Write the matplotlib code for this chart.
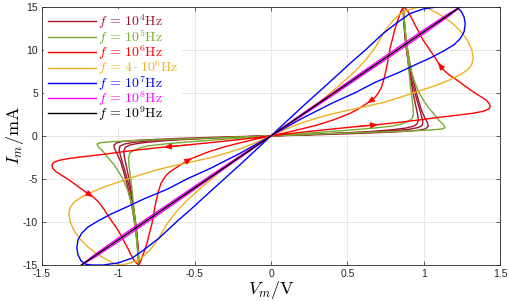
import matplotlib; matplotlib.use("Agg")
import matplotlib.pyplot as plt

# ---------------- data ----------------
X_TICKS = [-1.5, -1, -0.5, 0, 0.5, 1, 1.5]
X_TICKLABELS = ["-1.5", "-1", "-0.5", "0", "0.5", "1", "1.5"]
Y_TICKS = [-15, -10, -5, 0, 5, 10, 15]
Y_TICKLABELS = ["-15", "-10", "-5", "0", "5", "10", "15"]

LABELS = [r"$f\,=\,10^4\mathrm{Hz}$", r"$f\,=\,10^5\mathrm{Hz}$", r"$f\,=\,10^6\mathrm{Hz}$",
          r"$f\,=\,4\cdot 10^6\mathrm{Hz}$", r"$f\,=\,10^7\mathrm{Hz}$",
          r"$f\,=\,10^8\mathrm{Hz}$", r"$f\,=\,10^9\mathrm{Hz}$"]
COLORS = ["#A2142F", "#77AC30", "#FF0000", "#EDB120", "#0000FF", "#FF00FF", "#000000"]

# f = 1e4 Hz
f4_V = [0, 0.2, 0.4, 0.6, 0.8, 0.9, 0.97, 1.01, 1.03, 1.025, 1.005, 0.985, 0.96, 0.935, 0.91, 0.893, 0.88, 0.872, 0.866,
        0.868, 0.875, 0.888, 0.9, 0.915, 0.93, 0.948, 0.96, 0.965, 0.955, 0.93, 0.88, 0.8, 0.65, 0.45, 0.25, 0,
        -0.2, -0.4, -0.6, -0.8, -0.9, -0.97, -1.01, -1.03, -1.025, -1.005, -0.985, -0.96, -0.935, -0.91, -0.893, -0.88, -0.872, -0.866,
        -0.868, -0.875, -0.888, -0.9, -0.915, -0.93, -0.948, -0.96, -0.965, -0.955, -0.93, -0.88, -0.8, -0.65, -0.45, -0.25, 0]
f4_I = [0, 0.08, 0.18, 0.3, 0.45, 0.55, 0.65, 0.8, 1.1, 1.5, 2.2, 3.0, 4.5, 6.2, 8.3, 10.2, 12.0, 13.6, 15.0,
        13.5, 12.0, 10.0, 8.3, 6.5, 5.0, 3.5, 2.5, 1.8, 1.35, 1.1, 0.9, 0.72, 0.5, 0.32, 0.16, 0,
        -0.08, -0.18, -0.3, -0.45, -0.55, -0.65, -0.8, -1.1, -1.5, -2.2, -3.0, -4.5, -6.2, -8.3, -10.2, -12.0, -13.6, -15.0,
        -13.5, -12.0, -10.0, -8.3, -6.5, -5.0, -3.5, -2.5, -1.8, -1.35, -1.1, -0.9, -0.72, -0.5, -0.32, -0.16, 0]
# second pass of the 1e4 Hz trace (middle line of the bundle)
f4b_V = [0.866, 0.872, 0.88, 0.9, 0.92, 0.95, 0.975, 0.995, 0.99, 0.96, 0.9, 0.8, 0.6, 0.3, 0,
         -0.3, -0.6, -0.8, -0.9, -0.96, -0.99, -0.995, -0.975, -0.95, -0.92, -0.9, -0.88, -0.872, -0.866]
f4b_I = [15, 13, 11, 8.5, 6.5, 4.5, 3.0, 1.7, 1.2, 0.95, 0.75, 0.6, 0.4, 0.18, 0,
         -0.18, -0.4, -0.6, -0.75, -0.95, -1.2, -1.7, -3.0, -4.5, -6.5, -8.5, -11, -13, -15]

# f = 1e5 Hz
f5_V = [0, 0.2, 0.4, 0.6, 0.8, 0.95, 1.06, 1.12, 1.14, 1.13, 1.1, 1.07, 1.03, 1.0, 0.97, 0.94, 0.915, 0.898, 0.885, 0.875, 0.866,
        0.872, 0.88, 0.889, 0.9, 0.91, 0.92, 0.93, 0.933, 0.925, 0.9, 0.85, 0.8, 0.7, 0.55, 0.4, 0.2, 0,
        -0.2, -0.4, -0.6, -0.8, -0.95, -1.06, -1.12, -1.14, -1.13, -1.1, -1.07, -1.03, -1.0, -0.97, -0.94, -0.915, -0.898, -0.885, -0.875, -0.866,
        -0.872, -0.88, -0.889, -0.9, -0.91, -0.92, -0.93, -0.933, -0.925, -0.9, -0.85, -0.8, -0.7, -0.55, -0.4, -0.2, 0]
f5_I = [0, 0.12, 0.25, 0.38, 0.5, 0.6, 0.7, 0.8, 0.95, 1.3, 1.8, 2.5, 3.3, 4.1, 5.0, 6.3, 7.8, 9.4, 11.2, 13.0, 15.0,
        13.5, 11.8, 10.2, 8.2, 6.3, 4.8, 3.5, 2.6, 2.0, 1.7, 1.35, 1.15, 0.95, 0.72, 0.52, 0.26, 0,
        -0.12, -0.25, -0.38, -0.5, -0.6, -0.7, -0.8, -0.95, -1.3, -1.8, -2.5, -3.3, -4.1, -5.0, -6.3, -7.8, -9.4, -11.2, -13.0, -15.0,
        -13.5, -11.8, -10.2, -8.2, -6.3, -4.8, -3.5, -2.6, -2.0, -1.7, -1.35, -1.15, -0.95, -0.72, -0.52, -0.26, 0]

# f = 1e6 Hz
f6_V = [0, 0.18, 0.36, 0.55, 0.7, 0.83, 0.95, 1.1, 1.22, 1.32, 1.39, 1.425, 1.436, 1.43, 1.41, 1.37, 1.325, 1.27, 1.216, 1.165,
        1.128, 1.095, 1.063, 1.03, 0.997, 0.97, 0.943, 0.92, 0.899, 0.88, 0.866,
        0.85, 0.83, 0.81, 0.795, 0.78, 0.77, 0.76, 0.748, 0.735, 0.72, 0.7, 0.68, 0.66, 0.63, 0.6, 0.56, 0.517, 0.46, 0.4, 0.3, 0.2, 0.1, 0,
        -0.18, -0.36, -0.55, -0.7, -0.83, -0.95, -1.1, -1.22, -1.32, -1.39, -1.425, -1.436, -1.43, -1.41, -1.37, -1.325, -1.27, -1.216, -1.165,
        -1.128, -1.095, -1.063, -1.03, -0.997, -0.97, -0.943, -0.92, -0.899, -0.88, -0.866,
        -0.85, -0.83, -0.81, -0.795, -0.78, -0.77, -0.76, -0.748, -0.735, -0.72, -0.7, -0.68, -0.66, -0.63, -0.6, -0.56, -0.517, -0.46, -0.4, -0.3, -0.2, -0.1, 0]
f6_I = [0, 0.38, 0.72, 1.06, 1.3, 1.55, 1.8, 2.15, 2.4, 2.62, 2.85, 3.1, 3.4, 3.75, 4.15, 4.6, 5.1, 5.8, 6.5, 7.1,
        7.7, 8.5, 9.4, 10.25, 11.1, 12.0, 12.9, 13.7, 14.4, 14.8, 15.0,
        14.4, 13.4, 12.3, 11.2, 10.2, 9.2, 8.2, 7.2, 6.3, 5.5, 4.9, 4.45, 4.15, 3.8, 3.45, 3.0, 2.61, 2.2, 1.8, 1.25, 0.8, 0.38, 0,
        -0.38, -0.72, -1.06, -1.3, -1.55, -1.8, -2.15, -2.4, -2.62, -2.85, -3.1, -3.4, -3.75, -4.15, -4.6, -5.1, -5.8, -6.5, -7.1,
        -7.7, -8.5, -9.4, -10.25, -11.1, -12.0, -12.9, -13.7, -14.4, -14.8, -15.0,
        -14.4, -13.4, -12.3, -11.2, -10.2, -9.2, -8.2, -7.2, -6.3, -5.5, -4.9, -4.45, -4.15, -3.8, -3.45, -3.0, -2.61, -2.2, -1.8, -1.25, -0.8, -0.38, 0]
f6_ARROWS = [3, 20, 43, 56, 71, 99]   # points on the 1e6 Hz loop that carry a direction arrow

# f = 4e6 Hz
f46_V = [0, 0.1, 0.2, 0.3, 0.4, 0.5, 0.63, 0.75, 0.85, 0.97, 1.08, 1.17, 1.24, 1.29, 1.315, 1.325, 1.315, 1.29, 1.25, 1.2, 1.14, 1.08, 1.03, 0.99,
         0.94, 0.88, 0.834, 0.79, 0.74, 0.68, 0.62, 0.55, 0.45, 0.35, 0.25, 0.15, 0.07, 0,
         -0.1, -0.2, -0.3, -0.4, -0.5, -0.63, -0.75, -0.85, -0.97, -1.08, -1.17, -1.24, -1.29, -1.315, -1.325, -1.315, -1.29, -1.25, -1.2, -1.14, -1.08, -1.03, -0.99,
         -0.94, -0.88, -0.834, -0.79, -0.74, -0.68, -0.62, -0.55, -0.45, -0.35, -0.25, -0.15, -0.07, 0]
f46_I = [0, 0.8, 1.5, 2.05, 2.55, 2.95, 3.45, 3.95, 4.5, 5.2, 5.85, 6.5, 7.1, 7.7, 8.3, 9.0, 10.0, 11.0, 12.0, 12.9, 13.7, 14.35, 14.8, 15.0,
         14.85, 14.5, 14.0, 13.2, 12.0, 10.2, 8.8, 7.5, 5.9, 4.4, 3.0, 1.7, 0.75, 0,
         -0.8, -1.5, -2.05, -2.55, -2.95, -3.45, -3.95, -4.5, -5.2, -5.85, -6.5, -7.1, -7.7, -8.3, -9.0, -10.0, -11.0, -12.0, -12.9, -13.7, -14.35, -14.8, -15.0,
         -14.85, -14.5, -14.0, -13.2, -12.0, -10.2, -8.8, -7.5, -5.9, -4.4, -3.0, -1.7, -0.75, 0]

# f = 1e7 Hz
f7_V = [0, 0.1, 0.2, 0.3, 0.4, 0.55, 0.68, 0.83, 0.95, 1.05, 1.13, 1.2, 1.24, 1.265, 1.272, 1.265, 1.245, 1.216,
        1.17, 1.1, 1.0, 0.91, 0.83, 0.735, 0.62, 0.517, 0.4, 0.3, 0.2, 0.1, 0,
        -0.1, -0.2, -0.3, -0.4, -0.55, -0.68, -0.83, -0.95, -1.05, -1.13, -1.2, -1.24, -1.265, -1.272, -1.265, -1.245, -1.216,
        -1.17, -1.1, -1.0, -0.91, -0.83, -0.735, -0.62, -0.517, -0.4, -0.3, -0.2, -0.1, 0]
f7_I = [0, 1.0, 2.0, 2.9, 3.8, 5.0, 6.2, 7.3, 8.3, 9.1, 9.85, 10.6, 11.3, 12.1, 13.0, 13.8, 14.5, 14.9,
        15.0, 15.0, 14.75, 14.2, 13.2, 11.9, 10.0, 8.4, 6.5, 4.9, 3.3, 1.65, 0,
        -1.0, -2.0, -2.9, -3.8, -5.0, -6.2, -7.3, -8.3, -9.1, -9.85, -10.6, -11.3, -12.1, -13.0, -13.8, -14.5, -14.9,
        -15.0, -15.0, -14.75, -14.2, -13.2, -11.9, -10.0, -8.4, -6.5, -4.9, -3.3, -1.65, 0]

# f = 1e8 Hz
f8_V = [0, 0.2, 0.4, 0.6, 0.8, 1.0, 1.15, 1.242, 1.15, 1.0, 0.8, 0.6, 0.4, 0.2, 0,
        -0.2, -0.4, -0.6, -0.8, -1.0, -1.15, -1.242, -1.15, -1.0, -0.8, -0.6, -0.4, -0.2, 0]
f8_I = [0, 2.3, 4.65, 7.05, 9.45, 11.85, 13.72, 15.0, 14.05, 12.3, 9.9, 7.45, 4.95, 2.5, 0,
        -2.3, -4.65, -7.05, -9.45, -11.85, -13.72, -15.0, -14.05, -12.3, -9.9, -7.45, -4.95, -2.5, 0]

# f = 1e9 Hz
f9_V = [-1.242, -0.6, 0, 0.6, 1.242]
f9_I = [-15.0, -7.25, 0, 7.25, 15.0]

# ---------------- plot ----------------
plt.rcParams["mathtext.fontset"] = "cm"
plt.rcParams["font.family"] = ["Liberation Sans", "DejaVu Sans"]

fig = plt.figure(figsize=(5.1, 3.02), dpi=100)
ax = fig.add_axes([0.0824, 0.1225, 0.898, 0.8553])

lw = 1.0
ax.plot(f4_V, f4_I, color=COLORS[0], lw=lw, label=LABELS[0])
ax.plot(f4b_V, f4b_I, color=COLORS[0], lw=lw, label="_nolegend_")
ax.plot(f5_V, f5_I, color=COLORS[1], lw=lw, label=LABELS[1])
ax.plot(f6_V, f6_I, color=COLORS[2], lw=lw, label=LABELS[2])
ax.plot(f46_V, f46_I, color=COLORS[3], lw=lw, label=LABELS[3])
ax.plot(f7_V, f7_I, color=COLORS[4], lw=lw, label=LABELS[4])
ax.plot(f8_V, f8_I, color=COLORS[5], lw=lw, label=LABELS[5])
ax.plot(f9_V, f9_I, color=COLORS[6], lw=lw, label=LABELS[6])

# direction arrows on the 1e6 Hz loop
for k in f6_ARROWS:
    ax.annotate("", xy=(f6_V[k + 1], f6_I[k + 1]), xytext=(f6_V[k], f6_I[k]),
                arrowprops=dict(arrowstyle="-|>,head_length=0.6,head_width=0.25",
                                color=COLORS[2], lw=0.8, shrinkA=0, shrinkB=0,
                                mutation_scale=7))

ax.set_xlim(-1.5, 1.5)
ax.set_ylim(-15, 15)
ax.set_xticks(X_TICKS)
ax.set_xticklabels(X_TICKLABELS)
ax.set_yticks(Y_TICKS)
ax.set_yticklabels(Y_TICKLABELS)
ax.tick_params(direction="in", length=3, width=0.5, top=True, right=True,
               labelsize=7.5, colors="#262626", pad=3)
for s in ax.spines.values():
    s.set_linewidth(0.6); s.set_color("#262626")
ax.grid(True, color="#e3e3e3", lw=0.6)
ax.set_axisbelow(True)

ax.set_xlabel(r"$V_m/\mathrm{V}$", fontsize=13, labelpad=0)
ax.set_ylabel(r"$I_m/\mathrm{mA}$", fontsize=13, labelpad=-2)

leg = ax.legend(loc="upper left", fontsize=10, frameon=True, framealpha=1,
                edgecolor="none", facecolor="white", labelcolor="linecolor",
                handlelength=3.5, handletextpad=0.15, labelspacing=-0.24,
                borderaxespad=0.15, borderpad=0.25)

fig.savefig("out.png", dpi=100)
